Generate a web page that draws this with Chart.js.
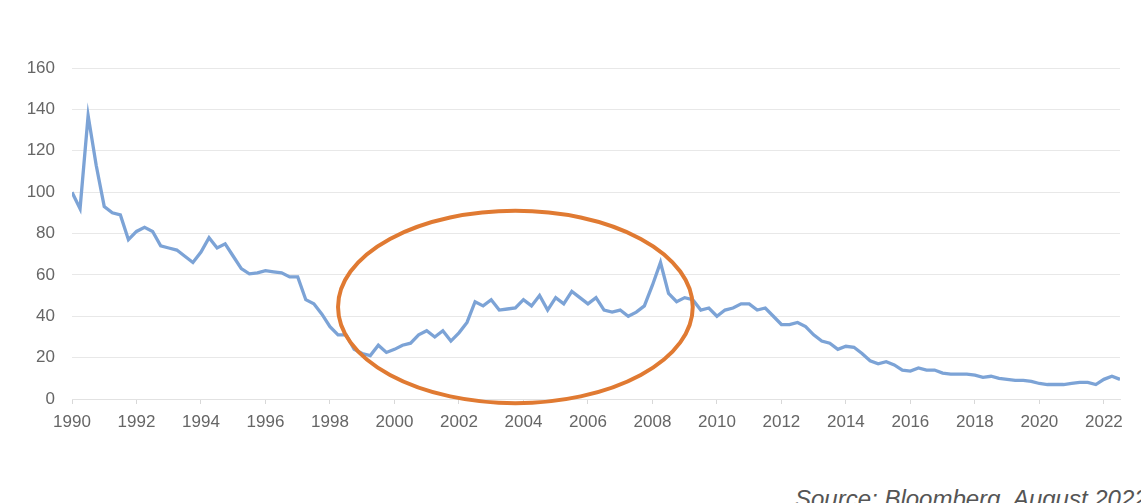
<!DOCTYPE html>
<html>
<head>
<meta charset="utf-8">
<script src="https://cdn.jsdelivr.net/npm/chart.js@4"></script>
<style>
  html, body { margin: 0; padding: 0; background: #fff; }
  body { width: 1141px; height: 503px; position: relative; overflow: hidden; font-family: "Liberation Sans", Arial, sans-serif; }
  #wrap { position: absolute; left: 0; top: 0; width: 1141px; height: 440px; }
  #fonte { position: absolute; left: 795px; top: 485px; font-size: 24px; font-style: italic; color: #555; white-space: nowrap; }
</style>
</head>
<body>
<div id="wrap"><canvas id="grafico"></canvas></div>
<div id="fonte">Source: Bloomberg, August 2022</div>
<script>
// serie trimestral, 1990 T1 ate 2022 T3
const anoInicio = 1990;
const porAno = 4;
const valores = [
  100, 92, 137, 113,   93, 90, 89, 77,   81, 83, 81, 74,   73, 72, 69, 66,
  71, 78, 73, 75,      69, 63, 60.5, 61, 62, 61.5, 61, 59,  59, 48, 46, 41,
  35, 31, 31, 24,      22, 21, 26, 22.5, 24, 26, 27, 31,    33, 30, 33, 28,
  32, 37, 47, 45,      48, 43, 43.5, 44, 48, 45, 50, 43,    49, 46, 52, 49,
  46, 49, 43, 42,      43, 40, 42, 45,   55, 66, 51, 47,    49, 48, 43, 44,
  40, 43, 44, 46,      46, 43, 44, 40,   36, 36, 37, 35,    31, 28, 27, 24,
  25.5, 25, 22, 18.5,  17, 18, 16.5, 14, 13.5, 15, 14, 14,  12.5, 12, 12, 12,
  11.5, 10.5, 11, 10,  9.5, 9, 9, 8.5,   7.5, 7, 7, 7,      7.5, 8, 8, 7,
  9.5, 11, 9.5
];
const anosEixo = [1990, 1992, 1994, 1996, 1998, 2000, 2002, 2004, 2006, 2008, 2010, 2012, 2014, 2016, 2018, 2020, 2022];
const ticksY = [0, 20, 40, 60, 80, 100, 120, 140, 160];

// elipse de destaque (em unidades de dados)
const destaque = { cx: 2003.75, cy: 44.5, rx: 5.5, ry: 46.5, cor: '#e07a32' };

const pontos = valores.map((v, i) => ({ x: anoInicio + i / porAno, y: v }));

const pluginElipse = {
    id: 'elipse',
    afterDatasetsDraw(chart) {
        const { ctx, scales: { x, y } } = chart;
        const cx = x.getPixelForValue(destaque.cx);
        const cy = y.getPixelForValue(destaque.cy);
        const rx = Math.abs(x.getPixelForValue(destaque.cx + destaque.rx) - cx);
        const ry = Math.abs(y.getPixelForValue(destaque.cy + destaque.ry) - cy);
        ctx.save();
        ctx.beginPath();
        ctx.ellipse(cx, cy, rx, ry, 0, 0, Math.PI * 2);
        ctx.strokeStyle = destaque.cor;
        ctx.lineWidth = 4;
        ctx.stroke();
        ctx.restore();
    }
};

const fonteEixo = { family: '"Liberation Sans", Arial, sans-serif', size: 17 };

new Chart(document.getElementById('grafico'), {
    type: 'line',
    data: {
        datasets: [{
            data: pontos,
            borderColor: '#7ca3d6',
            borderWidth: 3.3,
            pointRadius: 0,
            tension: 0,
            fill: false
        }]
    },
    options: {
        responsive: true,
        maintainAspectRatio: false,
        animation: false,
        layout: { padding: { top: 68, right: 21, left: 0, bottom: 0 } },
        plugins: { legend: { display: false }, tooltip: { enabled: false } },
        scales: {
            x: {
                type: 'linear',
                min: 1990,
                max: 2022.5,
                afterBuildTicks: ax => { ax.ticks = anosEixo.map(v => ({ value: v })); },
                afterFit: ax => { ax.height = 41; },
                border: { color: '#e2e2e2', width: 1 },
                grid: { drawOnChartArea: false, drawTicks: true, tickLength: 5, color: '#d8d8d8' },
                ticks: { font: fonteEixo, color: '#666', padding: 8, maxRotation: 0, callback: v => String(v) }
            },
            y: {
                min: 0,
                max: 160,
                afterBuildTicks: ax => { ax.ticks = ticksY.map(v => ({ value: v })); },
                afterFit: ax => { ax.width = 72; },
                border: { display: false },
                grid: { color: '#e8e8e8', drawTicks: false },
                ticks: { font: fonteEixo, color: '#666', padding: 17 }
            }
        }
    },
    plugins: [pluginElipse]
});
</script>
</body>
</html>
